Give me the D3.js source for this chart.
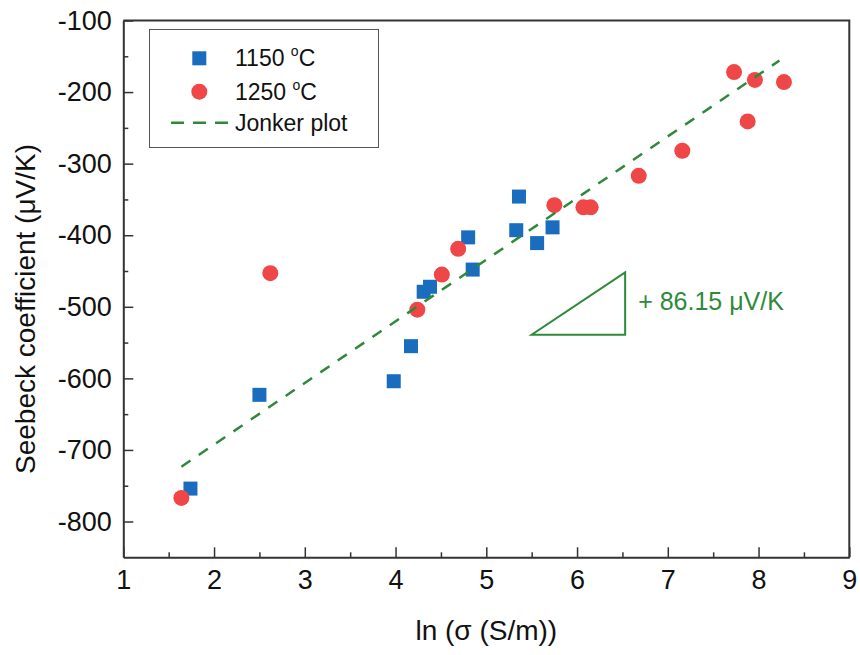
<!DOCTYPE html>
<html>
<head>
<meta charset="utf-8">
<script src="https://cdn.jsdelivr.net/npm/d3@7"></script>
<style>
  body { margin: 0; background: #fff; }
  text { font-family: "Liberation Sans", Arial, sans-serif; }
</style>
</head>
<body>
<script>
// ln(sigma) / Seebeck values
var x1150 = [1.74, 2.50, 3.98, 4.17, 4.31, 4.38, 4.80, 4.85, 5.33, 5.36, 5.56, 5.73];
var y1150 = [-754, -623, -604, -555, -479, -472, -403, -448, -393, -346, -411, -389];

var x1250 = [1.64, 2.62, 4.24, 4.51, 4.69, 5.75, 6.07, 6.15, 6.68, 7.16, 7.73, 7.96, 8.28, 7.88];
var y1250 = [-767, -453, -504, -455, -419, -358, -361, -361, -317, -282, -172, -183, -186, -241];

// Jonker fit line end points, slope triangle corners
var jonkerLine = [[1.64, -723.5], [8.23, -156]];
var slopeTri = [[5.5, -539], [6.53, -539], [6.53, -452]];
var slopeLabel = "+ 86.15 \u03bcV/K";

var xTicks = [1, 2, 3, 4, 5, 6, 7, 8, 9];
var xMinor = [1.5, 2.5, 3.5, 4.5, 5.5, 6.5, 7.5, 8.5];
var yTicks = [-800, -700, -600, -500, -400, -300, -200, -100];
var yMinor = [-750, -650, -550, -450, -350, -250, -150];

var SB = {};    // chart scope

SB.W = 860;
SB.H = 655;
SB.m = { left: 123.3, top: 20.5, right: 10.7, bottom: 97.7 };
SB.w = SB.W - SB.m.left - SB.m.right;
SB.h = SB.H - SB.m.top - SB.m.bottom;

SB.blue = "#1a6cbf";
SB.red = "#ef4747";
SB.green = "#2e8a3a";
SB.axisClr = "#333";

SB.svg = d3.select("body").append("svg")
    .attr("width", SB.W)
    .attr("height", SB.H);

SB.g = SB.svg.append("g")
    .attr("transform", "translate(" + SB.m.left + "," + SB.m.top + ")");

SB.x = d3.scaleLinear().domain([1, 9]).range([0, SB.w]);
SB.y = d3.scaleLinear().domain([-850, -100]).range([SB.h, 0]);

// plain hyphen for negatives, like the original
SB.fmt = function(d) { return String(d); };

/* frame (top + right sides) */
SB.g.append("path")
    .attr("d", "M0,0H" + SB.w + "V" + SB.h)
    .attr("fill", "none")
    .attr("stroke", SB.axisClr)
    .attr("stroke-width", 2);

/* axes, ticks point inward */
SB.xAxis = SB.g.append("g")
    .attr("transform", "translate(0," + SB.h + ")")
    .call(d3.axisBottom(SB.x).tickValues(xTicks).tickFormat(SB.fmt)
        .tickSizeInner(-10).tickSizeOuter(0).tickPadding(13));

SB.g.append("g")
    .attr("transform", "translate(0," + SB.h + ")")
    .call(d3.axisBottom(SB.x).tickValues(xMinor).tickFormat("")
        .tickSizeInner(-5).tickSizeOuter(0))
    .select(".domain").remove();

SB.yAxis = SB.g.append("g")
    .call(d3.axisLeft(SB.y).tickValues(yTicks).tickFormat(SB.fmt)
        .tickSizeInner(-10).tickSizeOuter(0).tickPadding(11.5));

SB.g.append("g")
    .call(d3.axisLeft(SB.y).tickValues(yMinor).tickFormat("")
        .tickSizeInner(-5).tickSizeOuter(0))
    .select(".domain").remove();

SB.g.selectAll(".domain")
    .attr("stroke", SB.axisClr)
    .attr("stroke-width", 2);
SB.g.selectAll(".tick line")
    .attr("stroke", SB.axisClr)
    .attr("stroke-width", 1.5);
SB.g.selectAll(".tick text")
    .attr("font-family", "Liberation Sans, Arial, sans-serif")
    .attr("font-size", 27)
    .attr("fill", "#111");

/* axis titles */
SB.svg.append("text")
    .attr("transform", "translate(35,309) rotate(-90)")
    .attr("text-anchor", "middle")
    .attr("font-size", 28)
    .attr("fill", "#111")
    .text("Seebeck coefficient (\u03bcV/K)");

SB.svg.append("text")
    .attr("x", SB.m.left + SB.w / 2)
    .attr("y", 640)
    .attr("text-anchor", "middle")
    .attr("font-size", 28)
    .attr("fill", "#111")
    .text("ln (\u03c3 (S/m))");

/* data points */
SB.sq = 14;
SB.g.append("g").selectAll("rect")
    .data(d3.zip(x1150, y1150))
    .enter()
    .append("rect")
    .attr("x", function(d) { return SB.x(d[0]) - SB.sq / 2; })
    .attr("y", function(d) { return SB.y(d[1]) - SB.sq / 2; })
    .attr("width", SB.sq)
    .attr("height", SB.sq)
    .attr("fill", SB.blue);

SB.g.append("g").selectAll("circle")
    .data(d3.zip(x1250, y1250))
    .enter()
    .append("circle")
    .attr("cx", function(d) { return SB.x(d[0]); })
    .attr("cy", function(d) { return SB.y(d[1]); })
    .attr("r", 8)
    .attr("fill", SB.red);

/* Jonker plot line */
SB.line = d3.line()
    .x(function(d) { return SB.x(d[0]); })
    .y(function(d) { return SB.y(d[1]); });

SB.g.append("path")
    .datum(jonkerLine)
    .attr("d", SB.line)
    .attr("fill", "none")
    .attr("stroke", SB.green)
    .attr("stroke-width", 2.5)
    .attr("stroke-dasharray", "11,10");

/* slope triangle + label */
SB.g.append("path")
    .datum(slopeTri)
    .attr("d", function(d) { return SB.line(d) + "Z"; })
    .attr("fill", "none")
    .attr("stroke", SB.green)
    .attr("stroke-width", 2);

SB.g.append("text")
    .attr("x", SB.x(slopeTri[2][0]) + 13)
    .attr("y", 310 - SB.m.top)
    .attr("font-size", 25)
    .attr("fill", SB.green)
    .text(slopeLabel);

/* legend */
SB.leg = SB.svg.append("g");
SB.leg.append("rect")
    .attr("x", 149.5).attr("y", 29.5)
    .attr("width", 229).attr("height", 118)
    .attr("fill", "#fff")
    .attr("stroke", "#555")
    .attr("stroke-width", 1);

SB.leg.append("rect")
    .attr("x", 199.3 - SB.sq / 2).attr("y", 58.3 - SB.sq / 2)
    .attr("width", SB.sq).attr("height", SB.sq)
    .attr("fill", SB.blue);
SB.leg.append("circle")
    .attr("cx", 199.3).attr("cy", 91.7).attr("r", 8)
    .attr("fill", SB.red);
SB.leg.append("line")
    .attr("x1", 171).attr("x2", 229)
    .attr("y1", 122.7).attr("y2", 122.7)
    .attr("stroke", SB.green)
    .attr("stroke-width", 2.5)
    .attr("stroke-dasharray", "13,9");

SB.legLabels = [["1150 ", "C", 66], ["1250 ", "C", 100]];
SB.legLabels.forEach(function(l) {
    var t = SB.leg.append("text")
        .attr("x", 235).attr("y", l[2])
        .attr("font-size", 23)
        .attr("fill", "#111");
    t.append("tspan").text(l[0]);
    t.append("tspan").attr("font-size", 14).attr("dy", -10).text("o");
    t.append("tspan").attr("dy", 10).text(l[1]);
});
SB.leg.append("text")
    .attr("x", 235).attr("y", 130.7)
    .attr("font-size", 23)
    .attr("fill", "#111")
    .text("Jonker plot");
</script>
</body>
</html>
